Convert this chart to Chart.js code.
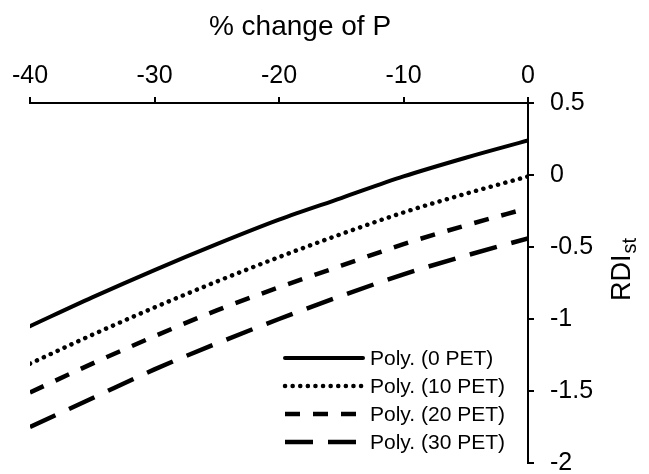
<!DOCTYPE html>
<html>
<head>
<meta charset="utf-8">
<script src="https://cdn.jsdelivr.net/npm/chart.js@4.4.0/dist/chart.umd.min.js"></script>
<style>
  html, body { margin: 0; padding: 0; background: #fff; }
</style>
</head>
<body>
<canvas id="chart" width="649" height="474"></canvas>
<script>
// values (x = % change of P)
const pChange = [-40, -35, -30, -25, -20, -15, -10, -5, 0];
const poly0 = [-1.05, -0.85, -0.66, -0.48, -0.31, -0.16, -0.01, 0.12, 0.24];
const poly10 = [-1.31, -1.11, -0.92, -0.74, -0.57, -0.41, -0.26, -0.13, -0.01];
const poly20 = [-1.51, -1.31, -1.12, -0.94, -0.78, -0.63, -0.48, -0.35, -0.23];
const poly30 = [-1.75, -1.55, -1.35, -1.17, -1.00, -0.84, -0.69, -0.56, -0.44];
const seriesNames = ['Poly. (0 PET)', 'Poly. (10 PET)', 'Poly. (20 PET)', 'Poly. (30 PET)'];
const xTitle = '% change of P';
const yTitle = 'RDI';
const yTitleSub = 'st';

const FONT = "'Liberation Sans', Arial, sans-serif";

function toPoints(ys) {
  return pChange.map((x, i) => ({ x: x, y: ys[i] }));
}

const lineStyles = [
  { borderDash: [], borderCapStyle: 'round', borderWidth: 4 },
  { borderDash: [0.1, 7.5], borderCapStyle: 'round', borderWidth: 4.5 },
  { borderDash: [15, 13], borderCapStyle: 'butt', borderWidth: 4.5 },
  { borderDash: [28, 15], borderCapStyle: 'butt', borderWidth: 4.5 }
];

const datasets = [poly0, poly10, poly20, poly30].map((ys, i) => Object.assign({
  label: seriesNames[i],
  data: toPoints(ys),
  borderColor: '#000',
  pointRadius: 0,
  fill: false,
  cubicInterpolationMode: 'monotone'
}, lineStyles[i]));

// axis titles + legend drawn by hand (subscript, legend inside plot)
const extras = {
  id: 'extras',
  afterDraw(chart) {
    const ctx = chart.ctx;
    ctx.save();
    ctx.fillStyle = '#000';

    ctx.font = '28px ' + FONT;
    ctx.textAlign = 'center';
    ctx.textBaseline = 'alphabetic';
    ctx.fillText(xTitle, 300, 35);

    ctx.save();
    ctx.translate(630, 270);
    ctx.rotate(-Math.PI / 2);
    ctx.font = '27px ' + FONT;
    const w1 = ctx.measureText(yTitle).width;
    ctx.font = '20px ' + FONT;
    const w2 = ctx.measureText(yTitleSub).width;
    const start = -(w1 + w2) / 2;
    ctx.textAlign = 'left';
    ctx.font = '27px ' + FONT;
    ctx.fillText(yTitle, start, 0);
    ctx.font = '20px ' + FONT;
    ctx.fillText(yTitleSub, start + w1 + 1, 6);
    ctx.restore();

    ctx.font = '21px ' + FONT;
    ctx.textAlign = 'left';
    ctx.textBaseline = 'middle';
    chart.data.datasets.forEach((ds, i) => {
      const y = 358 + i * 28;
      ctx.beginPath();
      ctx.setLineDash(ds.borderDash || []);
      ctx.lineCap = ds.borderCapStyle;
      ctx.lineWidth = ds.borderWidth;
      ctx.strokeStyle = '#000';
      ctx.moveTo(285, y);
      ctx.lineTo(363, y);
      ctx.stroke();
      ctx.setLineDash([]);
      ctx.fillText(ds.label, 370, y + 1);
    });
    ctx.restore();
  }
};

new Chart(document.getElementById('chart'), {
  type: 'line',
  data: { datasets: datasets },
  options: {
    responsive: false,
    animation: false,
    layout: { padding: { top: 45, left: 30, right: 0, bottom: 11 } },
    plugins: {
      legend: { display: false },
      tooltip: { enabled: false }
    },
    scales: {
      x: {
        type: 'linear',
        position: 'top',
        min: -40,
        max: 0,
        ticks: {
          stepSize: 10,
          color: '#000',
          padding: 6,
          maxRotation: 0,
          font: { family: FONT, size: 25 }
        },
        grid: { drawOnChartArea: false, tickLength: 6, color: '#000', lineWidth: 2 },
        border: { display: true, color: '#000', width: 2 },
        afterFit(scale) {
          scale.height = 58;
          scale.paddingLeft = 0;
          scale.paddingRight = 0;
        }
      },
      y: {
        type: 'linear',
        position: 'right',
        min: -2,
        max: 0.5,
        ticks: {
          stepSize: 0.5,
          color: '#000',
          padding: 16,
          font: { family: FONT, size: 25 },
          callback: (v) => String(v)
        },
        grid: { drawOnChartArea: false, tickLength: 6, color: '#000', lineWidth: 2 },
        border: { display: true, color: '#000', width: 2 },
        afterFit(scale) {
          scale.width = 121;
          scale.paddingTop = 0;
          scale.paddingBottom = 0;
        }
      }
    }
  },
  plugins: [extras]
});
</script>
</body>
</html>
